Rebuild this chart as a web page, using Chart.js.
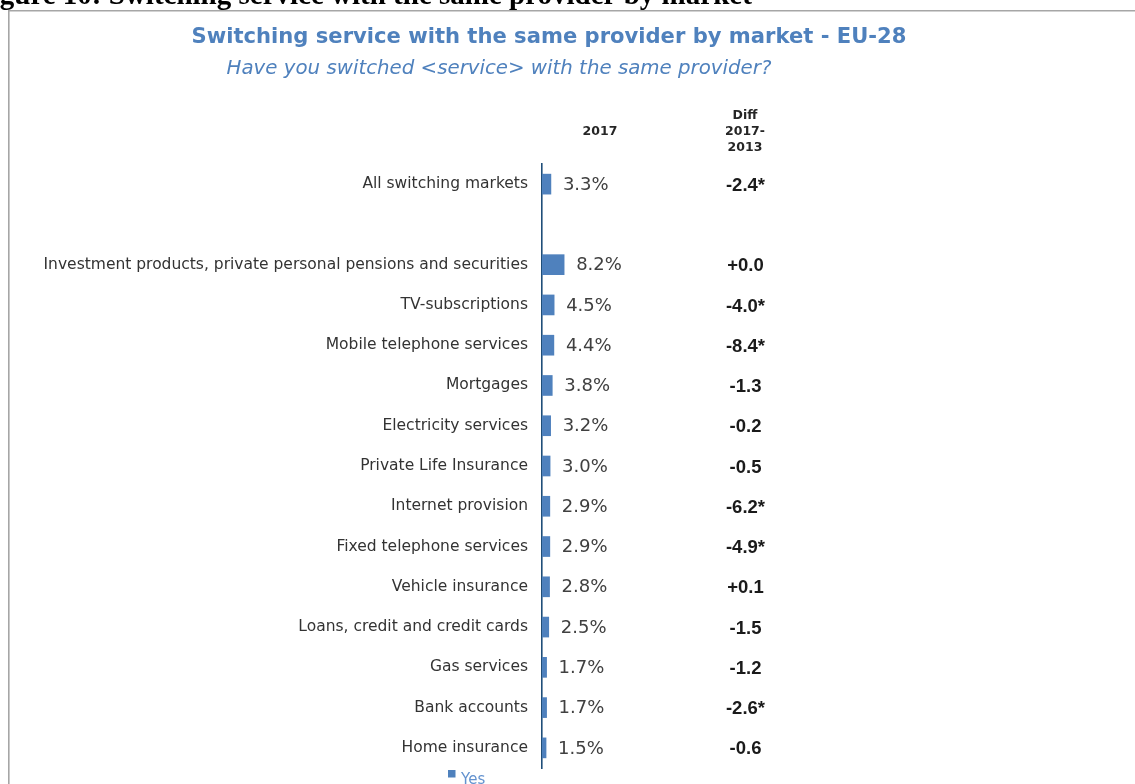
<!DOCTYPE html>
<html>
<head>
<meta charset="utf-8">
<script src="https://cdn.jsdelivr.net/npm/chart.js@4/dist/chart.umd.min.js"></script>
<style>
  html, body { margin: 0; padding: 0; background: #ffffff; overflow: hidden; }
  #wrap { position: relative; width: 1135px; height: 784px; }
  canvas { display: block; }
</style>
</head>
<body>
<div id="wrap"><canvas id="chart" width="1135" height="784"></canvas></div>
<script>
// Markets, in display order (blank row separates the overall figure)
const categories = [
  'All switching markets',
  '',
  'Investment products, private personal pensions and securities',
  'TV-subscriptions',
  'Mobile telephone services',
  'Mortgages',
  'Electricity services',
  'Private Life Insurance',
  'Internet provision',
  'Fixed telephone services',
  'Vehicle insurance',
  'Loans, credit and credit cards',
  'Gas services',
  'Bank accounts',
  'Home insurance'
];

// Share who switched service with the same provider, 2017 (%)
const share2017 = [3.3, null, 8.2, 4.5, 4.4, 3.8, 3.2, 3.0, 2.9, 2.9, 2.8, 2.5, 1.7, 1.7, 1.5];

// Change 2017 vs 2013 (percentage points) and whether it is significant
const diff2017vs2013 = [-2.4, null, 0.0, -4.0, -8.4, -1.3, -0.2, -0.5, -6.2, -4.9, 0.1, -1.5, -1.2, -2.6, -0.6];
const diffSignificant = [true, false, false, true, true, false, false, false, true, true, false, false, false, true, false];

const seriesLabel = 'Yes';
const figureCaption = 'Figure 10: Switching service with the same provider by market';
const chartTitle = 'Switching service with the same provider by market - EU-28';
const chartSubtitle = 'Have you switched <service> with the same provider?';
const colHeader2017 = ['2017'];
const colHeaderDiff = ['Diff', '2017-', '2013'];

const BLUE = '#4f81bd';

function fmtDiff(v, sig) {
  if (v === null) return '';
  const s = (v >= 0 ? '+' : '-') + Math.abs(v).toFixed(1);
  return sig ? s + '*' : s;
}

// Caption, frame, titles, column headers, diff column, value labels, legend
const decorations = {
  id: 'decorations',
  beforeDraw(chart) {
    const ctx = chart.ctx;
    ctx.save();
    ctx.fillStyle = '#ffffff';
    ctx.fillRect(0, 0, chart.width, chart.height);
    // frame
    ctx.strokeStyle = '#a6a6a6';
    ctx.lineWidth = 1.6;
    ctx.beginPath();
    ctx.moveTo(8.8, chart.height + 5);
    ctx.lineTo(8.8, 10.8);
    ctx.lineTo(chart.width + 5, 10.8);
    ctx.stroke();
    // figure caption
    ctx.fillStyle = '#000000';
    ctx.font = 'bold 29px "Liberation Serif", "Times New Roman", serif';
    ctx.textAlign = 'left';
    ctx.textBaseline = 'alphabetic';
    ctx.fillText(figureCaption, -26, 4);
    // title and subtitle
    ctx.fillStyle = BLUE;
    ctx.textAlign = 'center';
    ctx.font = 'bold 21.1px "DejaVu Sans", Verdana, sans-serif';
    ctx.fillText(chartTitle, 549, 42.5);
    ctx.font = 'italic 19.8px "DejaVu Sans", Verdana, sans-serif';
    ctx.fillText(chartSubtitle, 499, 73.5);
    // column headers
    ctx.fillStyle = '#262626';
    ctx.font = 'bold 12.5px "DejaVu Sans", Verdana, sans-serif';
    colHeader2017.forEach((t, i) => ctx.fillText(t, 600, 135 + i * 16));
    colHeaderDiff.forEach((t, i) => ctx.fillText(t, 745, 118.5 + i * 16.2));
    ctx.restore();
  },
  afterDatasetsDraw(chart) {
    const ctx = chart.ctx;
    const meta = chart.getDatasetMeta(0);
    const yScale = chart.scales.y;
    ctx.save();
    ctx.textBaseline = 'middle';
    // value labels
    ctx.fillStyle = '#404040';
    ctx.font = '18px "DejaVu Sans", Verdana, sans-serif';
    ctx.textAlign = 'left';
    meta.data.forEach((bar, i) => {
      const v = share2017[i];
      if (v === null) return;
      ctx.fillText(v.toFixed(1) + '%', bar.x + 12, bar.y + 1);
    });
    // diff column
    ctx.fillStyle = '#1a1a1a';
    ctx.font = 'bold 18.5px "Liberation Sans", Arial, sans-serif';
    ctx.textAlign = 'center';
    diff2017vs2013.forEach((v, i) => {
      const t = fmtDiff(v, diffSignificant[i]);
      if (!t) return;
      ctx.fillText(t, 745.5, yScale.getPixelForValue(i) + 1.5);
    });
    // legend
    ctx.fillStyle = chart.data.datasets[0].backgroundColor;
    ctx.fillRect(448, 770, 7.5, 7.5);
    ctx.fillStyle = '#6392cf';
    ctx.font = '15px "DejaVu Sans", Verdana, sans-serif';
    ctx.textAlign = 'left';
    ctx.textBaseline = 'alphabetic';
    ctx.fillText(chart.data.datasets[0].label, 461, 784);
    ctx.restore();
  }
};

new Chart(document.getElementById('chart'), {
  type: 'bar',
  data: {
    labels: categories,
    datasets: [{
      label: seriesLabel,
      data: share2017,
      backgroundColor: BLUE,
      borderWidth: 0,
      barThickness: 20
    }]
  },
  options: {
    indexAxis: 'y',
    responsive: false,
    animation: false,
    layout: { padding: { top: 164, bottom: 16, left: 0, right: 323 } },
    plugins: {
      legend: { display: false },
      title: { display: false },
      tooltip: { enabled: false }
    },
    scales: {
      x: {
        display: false,
        min: 0,
        max: 100
      },
      y: {
        afterFit(scale) {
          scale.width = 542;
          scale.paddingTop = 0;
          scale.paddingBottom = 0;
        },
        grid: { display: false, drawTicks: false },
        border: { display: true, color: '#1f4e79', width: 1.6 },
        ticks: {
          color: '#333333',
          padding: 14,
          font: { family: '"DejaVu Sans", Verdana, sans-serif', size: 15.5 }
        }
      }
    }
  },
  plugins: [decorations]
});
</script>
</body>
</html>
